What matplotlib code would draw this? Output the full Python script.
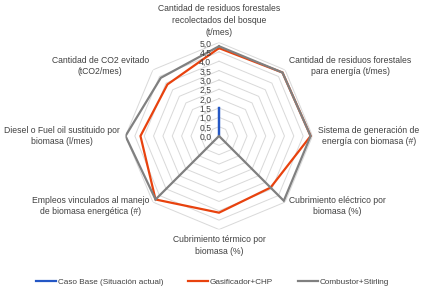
import numpy as np
import matplotlib
matplotlib.use('Agg')
import matplotlib.pyplot as plt

categories = [
    'Cantidad de residuos forestales\nrecolectados del bosque\n(t/mes)',
    'Cantidad de residuos forestales\npara energía (t/mes)',
    'Sistema de generación de\nenergía con biomasa (#)',
    'Cubrimiento eléctrico por\nbiomasa (%)',
    'Cubrimiento térmico por\nbiomasa (%)',
    'Empleos vinculados al manejo\nde biomasa energética (#)',
    'Diesel o Fuel oil sustituido por\nbiomasa (l/mes)',
    'Cantidad de CO2 evitado\n(tCO2/mes)',
]
caso_base = [1.5, 0, 0, 0, 0, 0, 0, 0]
gasificador = [4.7, 4.8, 4.9, 3.9, 4.1, 4.8, 4.2, 3.9]
combustor = [4.8, 4.8, 4.9, 4.9, 0.0, 4.8, 5.0, 4.4]
series_names = ['Caso Base (Situación actual)', 'Gasificador+CHP', 'Combustor+Stirling']
series_colors = ['#2457C5', '#E8420E', '#808080']
levels = np.arange(0.5, 5.01, 0.5)
tick_vals = np.arange(0, 5.01, 0.5)

plt.rcParams['font.family'] = ['Liberation Sans', 'DejaVu Sans']
fs = 6.2
txt_color = '#404040'

fig = plt.figure(figsize=(4.23, 2.94), dpi=100)
W, H = 423, 294
cx, cy, R = 219, 136, 93.5
ax = fig.add_axes([(cx - R) / W, (H - cy - R) / H, 2 * R / W, 2 * R / H], projection='polar')
ax.set_theta_zero_location('N')
ax.set_theta_direction(-1)
ax.set_ylim(0, 5)
ax.grid(False)
ax.spines['polar'].set_visible(False)
ax.set_xticks([])
ax.set_yticks([])
ax.patch.set_alpha(0)

n = len(categories)
theta = np.linspace(0, 2 * np.pi, n, endpoint=False)
closed = np.append(theta, theta[0])

for lv in levels:
    ax.plot(closed, [lv] * (n + 1), color='#D9D9D9', lw=0.7, zorder=1)

for vals, name, col in zip([caso_base, gasificador, combustor], series_names, series_colors):
    ax.plot(closed, vals + vals[:1], color=col, lw=1.6, label=name, zorder=3, solid_joinstyle='miter')

for v in tick_vals:
    ax.annotate(f'{v:.1f}'.replace('.', ','), xy=(0, v), xytext=(-5.5, -1), textcoords='offset points',
                ha='right', va='center', fontsize=6.2, color=txt_color, annotation_clip=False)

aligns = [('center', 'bottom'), ('left', 'center'), ('left', 'center'), ('left', 'center'),
          ('center', 'top'), ('right', 'center'), ('right', 'center'), ('right', 'center')]
for t, lab, (ha, va) in zip(theta, categories, aligns):
    ax.text(t, 5.3, lab, ha=ha, va=va, multialignment='center', fontsize=fs,
            color=txt_color, linespacing=1.4, clip_on=False)

handles, labels = ax.get_legend_handles_labels()
fig.legend(handles, labels, loc='center', bbox_to_anchor=(0.502, 1 - 282 / H), ncol=3,
           frameon=False, fontsize=5.9, handlelength=2.5, handletextpad=0.2,
           columnspacing=3.0, labelcolor=txt_color)

fig.savefig('out.png', dpi=100)
